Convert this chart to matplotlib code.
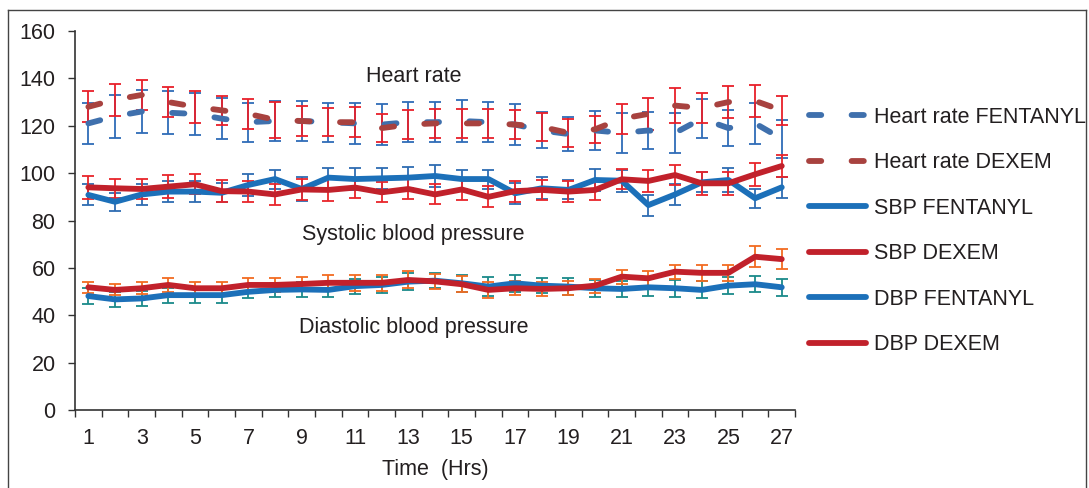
"""
Heart rate, SBP and DBP over time for the FENTANYL and DEXEM groups.

Means with error bars, drawn Excel style: categorical x axis, legend on the right.
"""

import matplotlib

matplotlib.use("Agg")
import matplotlib.pyplot as plt
from matplotlib.lines import Line2D

plt.rcParams["font.family"] = ["Liberation Sans", "DejaVu Sans"]

# ---------------------------------------------------------------------------
# Data
# ---------------------------------------------------------------------------
hours = list(range(1, 28))

hr_fent = [121, 124, 126, 125.5, 125, 123, 121.5, 122, 122, 121.5, 121, 120.5, 121.5, 121.5,
           122, 121.5, 120.5, 118, 116.5, 118, 117, 118, 117, 123, 119, 121, 114.5]
hr_fent_err = [8.7, 9, 9, 9, 8.7, 8.6, 8.3, 8.3, 8.3, 8.3, 8.7, 8.5, 8.5, 8.5,
               8.7, 8.5, 8.5, 7.6, 7, 8.1, 8.3, 7.9, 8.3, 8.3, 7.5, 8.8, 8]

hr_dexem = [128, 131, 133, 130, 128, 126.5, 125, 122.5, 122, 121.5, 121.5, 119, 120.5, 121,
            121, 121, 120.5, 119.5, 117, 118.5, 123, 125, 128.5, 127.5, 130, 130.5, 126.5]
hr_dexem_err = [6.5, 6.8, 6.2, 6.5, 6.7, 6.2, 6.3, 7.5, 6.5, 6, 6.3, 6, 6.2, 6,
                6, 6, 6, 5.8, 5.9, 5.8, 6.3, 6.7, 7.4, 6.5, 6.7, 6.7, 6.1]

sbp_fent = [90.8, 87.9, 91, 92.2, 92.2, 91.7, 95, 97.5, 93.3, 98.1, 97.5, 97.8, 98.1, 98.8,
            97.5, 97.5, 91.5, 93.6, 92.9, 97.1, 96.8, 86.5, 91, 96.1, 97.1, 89.4, 94]
sbp_fent_err = [4.4, 3.8, 4.4, 4.4, 4.3, 4, 4.7, 4, 5, 4.2, 4.5, 4.3, 4.3, 4.6,
                4, 4, 4.4, 4.6, 4, 4.7, 4.7, 4.4, 4.6, 4.2, 4.9, 4.1, 4.4]

sbp_dexem = [94, 93.6, 93.3, 94.3, 95.3, 92.4, 92.2, 91, 93.1, 92.9, 93.9, 91.9, 93.3, 91,
             93.1, 90, 92.4, 92.9, 92.2, 92.9, 97.4, 96.7, 99.2, 95.7, 95.7, 99.5, 103]
sbp_dexem_err = [4.9, 4, 4.2, 4.7, 4.3, 4.7, 4.6, 4.5, 4.5, 4.5, 4.2, 4.2, 4.2, 4.2,
                 4.4, 4.4, 4.4, 4.4, 4.5, 4.4, 4.2, 4.8, 4.4, 4.9, 4.9, 4.9, 4.8]

dbp_fent = [48.1, 46.7, 47.1, 48.5, 48.5, 48.5, 49.9, 50.7, 50.9, 50.7, 52.3, 52.8, 54.2, 54.6,
            53.5, 52.1, 53.5, 52.5, 52.1, 51.4, 51.1, 51.8, 51.4, 50.7, 52.5, 53.1, 51.8]
dbp_fent_err = [3.5, 3.3, 3.3, 3.2, 3.2, 3.2, 2.8, 3, 3, 2.8, 3.2, 3.3, 3.5, 3.3,
                3.5, 4, 3.5, 3.3, 3.5, 3.6, 3.5, 3.5, 3.5, 3.6, 3.5, 3.3, 3.5]

dbp_dexem = [51.8, 50.7, 51.4, 52.8, 51.4, 51.4, 52.8, 52.8, 53.2, 53.7, 53.7, 53.7, 54.9, 54.3,
             53.1, 50.7, 51.4, 51.1, 51.4, 52.5, 56.3, 55.6, 58.4, 57.9, 57.9, 64.7, 63.7]
dbp_dexem_err = [2.4, 2.3, 2.6, 2.8, 2.5, 2.6, 2.8, 3, 3, 3.2, 3.3, 3.3, 3.6, 3.3,
                 3.4, 3.5, 3, 3, 3, 3, 3, 3.2, 3, 3.3, 3.3, 4.5, 4.3]

TEXT_COLOR = "#231f20"
FONT_SIZE = 15.5


def add_series(ax, y, err, label, color, ecolor, dashed=False):
    """Draw one mean line with its error bars and return the line for the legend."""
    cont = ax.errorbar(
        hours, y, yerr=err,
        color=color, lw=4.2, ecolor=ecolor, elinewidth=1.3,
        capsize=4, capthick=1.3,
        solid_capstyle="round", dash_capstyle="round",
    )
    line = cont[0]
    line.set_label(label)
    if dashed:
        line.set_dashes((2.1, 5.2))
    return line


def main() -> None:
    fig = plt.figure(figsize=(10.89, 4.88), dpi=100)
    ax = fig.add_axes([0.0689, 0.1598, 0.6612, 0.7767])

    handles = [
        add_series(ax, hr_fent, hr_fent_err, "Heart rate FENTANYL", "#3f70ad", "#2f6cb8", dashed=True),
        add_series(ax, hr_dexem, hr_dexem_err, "Heart rate DEXEM", "#a8423f", "#e8202a", dashed=True),
        add_series(ax, sbp_fent, sbp_fent_err, "SBP FENTANYL", "#1c70b9", "#2e6cb2"),
        add_series(ax, sbp_dexem, sbp_dexem_err, "SBP DEXEM", "#c1212b", "#e8252b"),
        add_series(ax, dbp_fent, dbp_fent_err, "DBP FENTANYL", "#1c70b9", "#1a8a8a"),
        add_series(ax, dbp_dexem, dbp_dexem_err, "DBP DEXEM", "#c1212b", "#f26b21"),
    ]

    # Axes: Excel-like, ticks between categories on x
    ax.set_xlim(0.5, 27.5)
    ax.set_ylim(0, 160)
    ax.set_yticks(range(0, 161, 20))
    ax.set_xticks(hours[::2])
    ax.set_xticks([h + 0.5 for h in range(0, 28)], minor=True)
    ax.tick_params(axis="x", which="major", length=0, pad=13, labelsize=FONT_SIZE,
                   labelcolor=TEXT_COLOR)
    ax.tick_params(axis="x", which="minor", length=5, width=1, color="#333333")
    ax.tick_params(axis="y", length=5, width=1, color="#333333", labelsize=FONT_SIZE,
                   labelcolor=TEXT_COLOR, pad=9)
    for side in ("top", "right"):
        ax.spines[side].set_visible(False)
    for side in ("left", "bottom"):
        ax.spines[side].set_color("#333333")
        ax.spines[side].set_linewidth(1.2)
    ax.set_xlabel("Time  (Hrs)", fontsize=FONT_SIZE, color=TEXT_COLOR, labelpad=7)

    # In-plot labels
    ax.text(13.2, 140.6, "Heart rate", ha="center", va="center", fontsize=FONT_SIZE,
            color=TEXT_COLOR)
    ax.text(13.2, 74.0, "Systolic blood pressure", ha="center", va="center",
            fontsize=FONT_SIZE, color=TEXT_COLOR)
    ax.text(13.2, 35.0, "Diastolic blood pressure", ha="center", va="center",
            fontsize=FONT_SIZE, color=TEXT_COLOR)

    fig.legend(
        handles=handles,
        loc="upper left",
        bbox_to_anchor=(800 / 1089, 1 - 98 / 488),
        frameon=False,
        fontsize=FONT_SIZE,
        handlelength=2.65,
        handletextpad=0.38,
        labelspacing=1.14,
        labelcolor=TEXT_COLOR,
        borderaxespad=0,
    )

    # Outer frame around the figure (cut off at the bottom)
    for xs, ys in [((8 / 1089, 8 / 1089), (0, 1 - 10 / 488)),
                   ((8 / 1089, 1086 / 1089), (1 - 10 / 488, 1 - 10 / 488)),
                   ((1086 / 1089, 1086 / 1089), (0, 1 - 10 / 488))]:
        fig.add_artist(Line2D(xs, ys, color="#444444", lw=1))

    fig.savefig("out.png", dpi=100)
    plt.close(fig)


if __name__ == "__main__":
    main()
